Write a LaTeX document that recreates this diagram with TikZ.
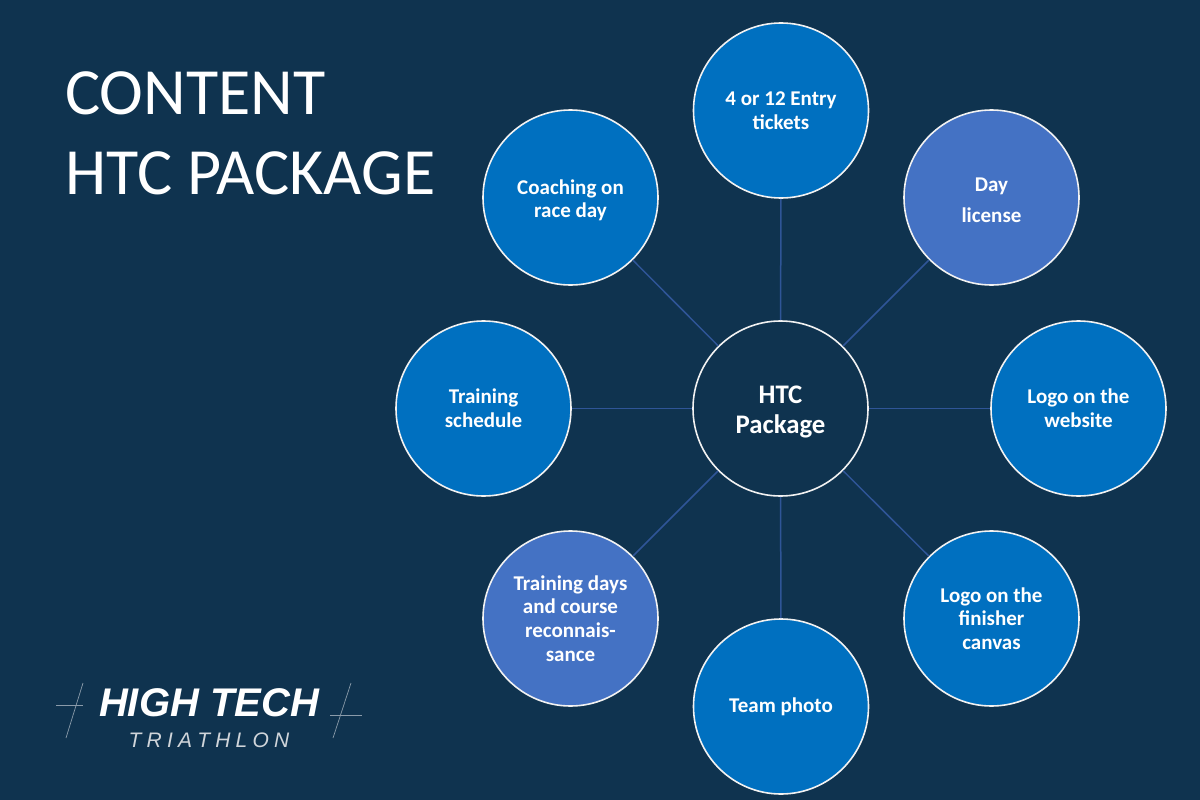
\documentclass[tikz,border=0pt]{standalone}
\usepackage{fontspec}
\setmainfont{Carlito}
\newfontfamily\logofont{Liberation Sans}
\definecolor{bgc}{HTML}{0F334F}
\definecolor{blue1}{HTML}{0070C0}
\definecolor{blue2}{HTML}{4472C4}
\definecolor{linkc}{HTML}{2F5597}
\definecolor{ringc}{HTML}{F2F2F2}
\definecolor{logoline}{HTML}{8A9BAA}
\tikzset{
 x=1pt,y=-1pt,
 hub/.style={circle,draw=ringc,line width=1.6pt,minimum size=175pt,inner sep=0pt,text=white,align=center,font=\bfseries\fontsize{26.8}{30}\selectfont},
 sat/.style={hub,fill=blue1,font=\bfseries\fontsize{21}{23.6}\selectfont},
 satb/.style={sat,fill=blue2},
 link/.style={draw=linkc,line width=1.5pt},
 title/.style={text=white,anchor=west,inner sep=0pt,font=\fontsize{66}{74}\selectfont},
 logoa/.style={text=white,inner sep=0pt,font=\logofont\bfseries\itshape\fontsize{40}{44}\selectfont},
 logob/.style={text=ringc!85!bgc,inner sep=0pt,font=\logofont\itshape\fontsize{21}{24}\selectfont},
 logol/.style={draw=logoline,line width=0.7pt},
}
\begin{document}
\begin{tikzpicture}
\useasboundingbox (0,0) rectangle (1200,800);
\fill[bgc] (0,0) rectangle (1200,800);
\node[hub] (c) at (780.5,408.5) {\rule{0pt}{25pt}HTC\\Package};
\node[sat] (n1) at (781,110.5) {4 or 12 Entry\\tickets};
\node[satb] (n2) at (991.5,197.5) {\rule{0pt}{19pt}Day\\[8pt]license};
\node[sat] (n3) at (1078.5,408.5) {Logo on the\\website};
\node[sat] (n4) at (991.5,618.5) {Logo on the\\finisher\\canvas};
\node[sat] (n5) at (781,706.5) {Team photo};
\node[satb] (n6) at (570.5,618.5) {Training days\\and course\\reconnais-\\sance};
\node[sat] (n7) at (483.5,408.5) {Training\\schedule};
\node[sat] (n8) at (570.5,197.5) {\rule{0pt}{20pt}Coaching on\\race day};
\foreach \i in {1,...,8} \draw[link] (c) -- (n\i);
\node[title] (t1) at (65,93) {CONTENT};
\node[title] (t2) at (65,173) {HTC PACKAGE};
\node[logoa] (l1) at (209,703) {HIGH TECH};
\node[logob] (l2) at (209,740) {T\hspace{5.2pt}R\hspace{5.2pt}I\hspace{5.2pt}A\hspace{5.2pt}T\hspace{5.2pt}H\hspace{5.2pt}L\hspace{5.2pt}O\hspace{5.2pt}N};
\coordinate (a1) at (56,705); \coordinate (a2) at (83,705);
\coordinate (a3) at (83,683); \coordinate (a4) at (66,738);
\coordinate (b1) at (330,715); \coordinate (b2) at (362,715);
\coordinate (b3) at (351,683); \coordinate (b4) at (333,738);
\draw[logol] (a1) -- (a2);
\draw[logol] (a3) -- (a4);
\draw[logol] (b1) -- (b2);
\draw[logol] (b3) -- (b4);
\end{tikzpicture}
\end{document}
